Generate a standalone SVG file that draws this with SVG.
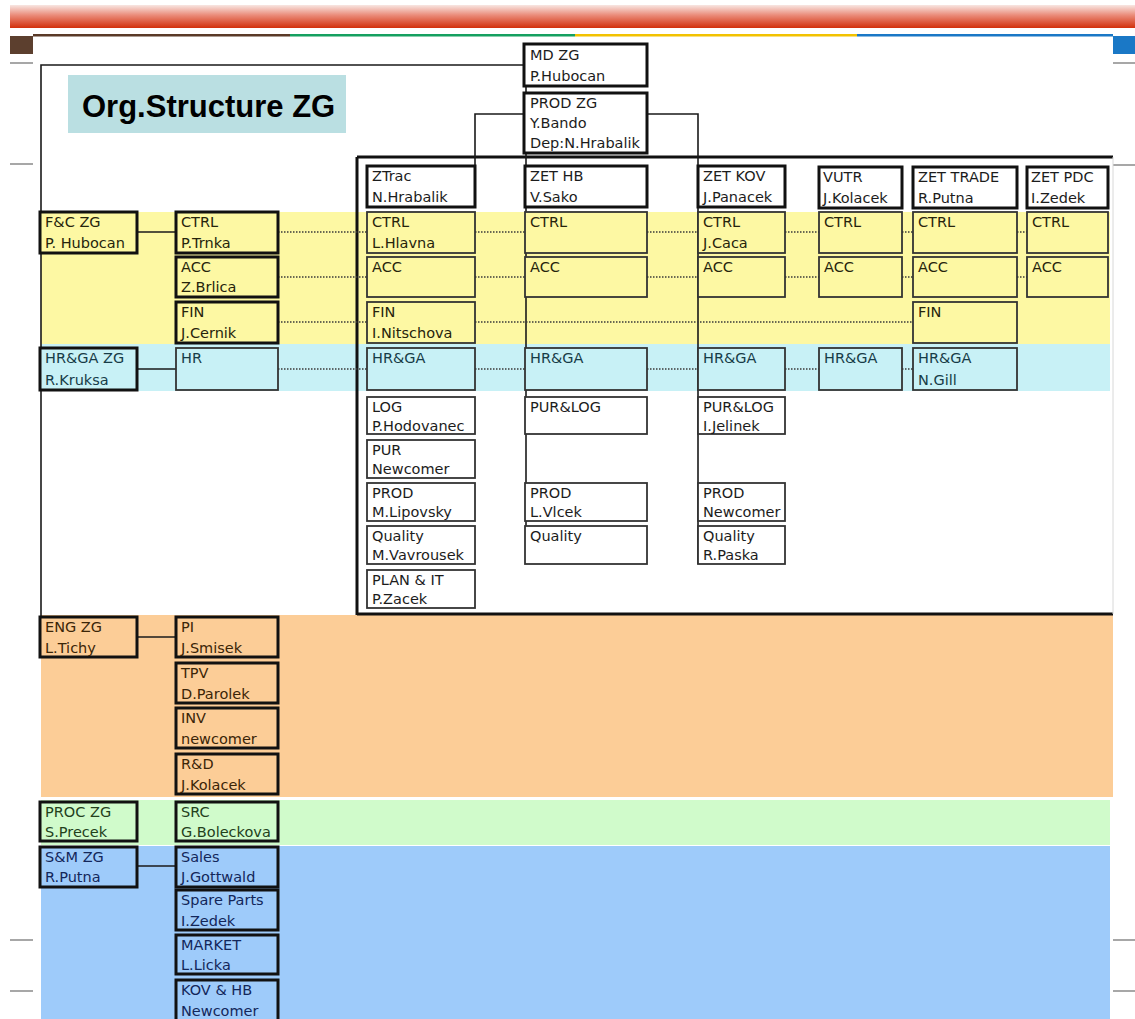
<svg xmlns="http://www.w3.org/2000/svg" width="1135" height="1019" viewBox="0 0 1135 1019">
<defs>
<linearGradient id="redband" x1="0" y1="0" x2="0" y2="1">
<stop offset="0" stop-color="#f8e6e2"/>
<stop offset="0.45" stop-color="#ea8a78"/>
<stop offset="1" stop-color="#d2300c"/>
</linearGradient>
<style>
.t{font-family:"DejaVu Sans","Liberation Sans",sans-serif;font-size:14.5px;fill:#1c1c1c}
.to{fill:#3b2508}.tg{fill:#23401c}.tb{fill:#13275a}.tc{fill:#173c48}.ty{fill:#26240c}
.bk{stroke:#111;stroke-width:3}
.th{stroke:#333;stroke-width:1.8}
.w{fill:#fff}.y{fill:#fdf8a3}.c{fill:#c8f1f6}.o{fill:#fccd97}.g{fill:#d0fbcb}.b{fill:#9ecbfa}
.ln{fill:none;stroke:#1a1a1a;stroke-width:1.6}
.dt{fill:none;stroke:#3a3a3a;stroke-width:1.5;stroke-dasharray:1.5 1.5}
.gr{stroke:#8a8a8a;stroke-width:1.5}
</style>
</defs>
<rect x="0" y="0" width="1135" height="1019" fill="#fff"/>
<!-- header decoration -->
<g id="header">
<rect x="10" y="5" width="1125" height="23" fill="url(#redband)"/>
<rect x="33" y="34" width="257" height="2.5" fill="#5a3a28"/>
<rect x="290" y="34" width="285" height="2.5" fill="#15a060"/>
<rect x="575" y="34" width="282" height="2.5" fill="#f2c200"/>
<rect x="857" y="34" width="256" height="2.5" fill="#1a78c6"/>
<rect x="10" y="36" width="23" height="18" fill="#5c3f2e"/>
<rect x="1113" y="36" width="22" height="18" fill="#1a78c6"/>
<line class="gr" x1="10" y1="63" x2="33" y2="63"/>
<line class="gr" x1="10" y1="164" x2="33" y2="164"/>
<line class="gr" x1="10" y1="940" x2="33" y2="940"/>
<line class="gr" x1="10" y1="991" x2="33" y2="991"/>
<line class="gr" x1="1113" y1="63" x2="1135" y2="63"/>
<line class="gr" x1="1113" y1="165" x2="1135" y2="165"/>
<line class="gr" x1="1113" y1="940" x2="1135" y2="940"/>
<line class="gr" x1="1113" y1="991" x2="1135" y2="991"/>
</g>
<!-- bands -->
<g id="bands">
<rect x="41" y="212" width="1069" height="132" fill="#fdf8a3"/>
<rect x="41" y="344" width="1069" height="47" fill="#c8f1f6"/>
<rect x="41" y="615" width="1072" height="182" fill="#fccd97"/>
<rect x="41" y="800" width="1069" height="45" fill="#d0fbcb"/>
<rect x="41" y="846" width="1069" height="173" fill="#9ecbfa"/>
</g>
<g id="title">
<rect x="68" y="75" width="278" height="58" fill="#badfe2"/>
<text x="82" y="117" style="font-family:'Liberation Sans',Arial,sans-serif;font-size:31px;font-weight:bold;fill:#000">Org.Structure ZG</text>
</g>
<!-- business unit frame -->
<g id="frame">
<line x1="357" y1="157" x2="1113" y2="157" stroke="#111" stroke-width="3"/>
<line x1="357" y1="157" x2="357" y2="615" stroke="#111" stroke-width="3"/>
<line x1="357" y1="614" x2="1113" y2="614" stroke="#111" stroke-width="3"/>
<line x1="1113" y1="157" x2="1113" y2="614" stroke="#d8d8d8" stroke-width="1"/>
</g>
<!-- connectors -->
<g id="connectors">
<path class="ln" d="M41 617 V65 H524"/>
<path class="ln" d="M526 86 V564"/>
<path class="ln" d="M524 114 H475 V166"/>
<path class="ln" d="M647 114 H698 V564"/>
<path class="ln" d="M137 232 H176"/>
<path class="ln" d="M137 369 H176"/>
<path class="ln" d="M137 637 H176"/>
<path class="ln" d="M137 866 H176"/>
<path class="dt" d="M278 232 H367 M475 232 H525 M647 232 H698 M785 232 H819 M902 232 H913 M1017 232 H1027"/>
<path class="dt" d="M278 277 H367 M475 277 H525 M647 277 H698 M785 277 H819 M902 277 H913 M1017 277 H1027"/>
<path class="dt" d="M278 322 H367 M475 322 H913"/>
<path class="dt" d="M278 369 H367 M475 369 H525 M647 369 H698 M785 369 H819 M902 369 H913"/>
</g>
<!-- top nodes -->
<g id="md-zg"><rect class="w bk" x="524" y="44" width="123" height="42"/><text class="t" x="530" y="60">MD ZG</text><text class="t" x="530" y="81">P.Hubocan</text></g>
<g id="prod-zg"><rect class="w bk" x="524" y="93" width="123" height="60"/><text class="t" x="530" y="108">PROD ZG</text><text class="t" x="530" y="128">Y.Bando</text><text class="t" x="530" y="148">Dep:N.Hrabalik</text></g>
<g id="ztrac"><rect class="w bk" x="367" y="166" width="108" height="41"/><text class="t" x="372" y="181">ZTrac</text><text class="t" x="372" y="202">N.Hrabalik</text></g>
<g id="zet-hb"><rect class="w bk" x="525" y="166" width="122" height="41"/><text class="t" x="530" y="181">ZET HB</text><text class="t" x="530" y="202">V.Sako</text></g>
<g id="zet-kov"><rect class="w bk" x="698" y="166" width="87" height="41"/><text class="t" x="703" y="181">ZET KOV</text><text class="t" x="703" y="202">J.Panacek</text></g>
<g id="vutr"><rect class="w bk" x="819" y="167" width="83" height="41"/><text class="t" x="823" y="182">VUTR</text><text class="t" x="823" y="203">J.Kolacek</text></g>
<g id="zet-trade"><rect class="w bk" x="913" y="167" width="104" height="41"/><text class="t" x="918" y="182">ZET TRADE</text><text class="t" x="918" y="203">R.Putna</text></g>
<g id="zet-pdc"><rect class="w bk" x="1027" y="167" width="81" height="41"/><text class="t" x="1031" y="182">ZET PDC</text><text class="t" x="1031" y="203">I.Zedek</text></g>
<!-- F&C -->
<g id="fc-zg"><rect class="y bk" x="40" y="212" width="97" height="41"/><text class="t ty" x="45" y="227">F&amp;C ZG</text><text class="t ty" x="45" y="248">P. Hubocan</text></g>
<g id="ctrl-zg"><rect class="y bk" x="176" y="212" width="102" height="41"/><text class="t ty" x="181" y="227">CTRL</text><text class="t ty" x="181" y="248">P.Trnka</text></g>
<g id="acc-zg"><rect class="y bk" x="176" y="257" width="102" height="40"/><text class="t ty" x="181" y="272">ACC</text><text class="t ty" x="181" y="292">Z.Brlica</text></g>
<g id="fin-zg"><rect class="y bk" x="176" y="302" width="102" height="41"/><text class="t ty" x="181" y="317">FIN</text><text class="t ty" x="181" y="338">J.Cernik</text></g>
<g id="hrga-zg"><rect class="c bk" x="40" y="348" width="97" height="42"/><text class="t tc" x="45" y="363">HR&amp;GA ZG</text><text class="t tc" x="45" y="385">R.Kruksa</text></g>
<g id="hr-zg"><rect class="c th" x="176" y="348" width="102" height="42"/><text class="t tc" x="181" y="363">HR</text></g>
<!-- ZTrac column -->
<g id="ztrac-ctrl"><rect class="y th" x="367" y="212" width="108" height="41"/><text class="t ty" x="372" y="227">CTRL</text><text class="t ty" x="372" y="248">L.Hlavna</text></g>
<g id="ztrac-acc"><rect class="y th" x="367" y="257" width="108" height="40"/><text class="t ty" x="372" y="272">ACC</text></g>
<g id="ztrac-fin"><rect class="y th" x="367" y="302" width="108" height="41"/><text class="t ty" x="372" y="317">FIN</text><text class="t ty" x="372" y="338">I.Nitschova</text></g>
<g id="ztrac-hrga"><rect class="c th" x="367" y="348" width="108" height="42"/><text class="t tc" x="372" y="363">HR&amp;GA</text></g>
<g id="ztrac-log"><rect class="w th" x="367" y="397" width="108" height="37"/><text class="t" x="372" y="412">LOG</text><text class="t" x="372" y="431">P.Hodovanec</text></g>
<g id="ztrac-pur"><rect class="w th" x="367" y="440" width="108" height="38"/><text class="t" x="372" y="455">PUR</text><text class="t" x="372" y="474">Newcomer</text></g>
<g id="ztrac-prod"><rect class="w th" x="367" y="483" width="108" height="38"/><text class="t" x="372" y="498">PROD</text><text class="t" x="372" y="517">M.Lipovsky</text></g>
<g id="ztrac-quality"><rect class="w th" x="367" y="526" width="108" height="38"/><text class="t" x="372" y="541">Quality</text><text class="t" x="372" y="560">M.Vavrousek</text></g>
<g id="ztrac-plan"><rect class="w th" x="367" y="570" width="108" height="38"/><text class="t" x="372" y="585">PLAN &amp; IT</text><text class="t" x="372" y="604">P.Zacek</text></g>
<!-- ZET HB column -->
<g id="hb-ctrl"><rect class="y th" x="525" y="212" width="122" height="41"/><text class="t ty" x="530" y="227">CTRL</text></g>
<g id="hb-acc"><rect class="y th" x="525" y="257" width="122" height="40"/><text class="t ty" x="530" y="272">ACC</text></g>
<g id="hb-hrga"><rect class="c th" x="525" y="348" width="122" height="42"/><text class="t tc" x="530" y="363">HR&amp;GA</text></g>
<g id="hb-purlog"><rect class="w th" x="525" y="397" width="122" height="37"/><text class="t" x="530" y="412">PUR&amp;LOG</text></g>
<g id="hb-prod"><rect class="w th" x="525" y="483" width="122" height="38"/><text class="t" x="530" y="498">PROD</text><text class="t" x="530" y="517">L.Vlcek</text></g>
<g id="hb-quality"><rect class="w th" x="525" y="526" width="122" height="38"/><text class="t" x="530" y="541">Quality</text></g>
<!-- ZET KOV column -->
<g id="kov-ctrl"><rect class="y th" x="698" y="212" width="87" height="41"/><text class="t ty" x="703" y="227">CTRL</text><text class="t ty" x="703" y="248">J.Caca</text></g>
<g id="kov-acc"><rect class="y th" x="698" y="257" width="87" height="40"/><text class="t ty" x="703" y="272">ACC</text></g>
<g id="kov-hrga"><rect class="c th" x="698" y="348" width="87" height="42"/><text class="t tc" x="703" y="363">HR&amp;GA</text></g>
<g id="kov-purlog"><rect class="w th" x="698" y="397" width="87" height="37"/><text class="t" x="703" y="412">PUR&amp;LOG</text><text class="t" x="703" y="431">I.Jelinek</text></g>
<g id="kov-prod"><rect class="w th" x="698" y="483" width="87" height="38"/><text class="t" x="703" y="498">PROD</text><text class="t" x="703" y="517">Newcomer</text></g>
<g id="kov-quality"><rect class="w th" x="698" y="526" width="87" height="38"/><text class="t" x="703" y="541">Quality</text><text class="t" x="703" y="560">R.Paska</text></g>
<!-- VUTR column -->
<g id="vutr-ctrl"><rect class="y th" x="819" y="212" width="83" height="41"/><text class="t ty" x="824" y="227">CTRL</text></g>
<g id="vutr-acc"><rect class="y th" x="819" y="257" width="83" height="40"/><text class="t ty" x="824" y="272">ACC</text></g>
<g id="vutr-hrga"><rect class="c th" x="819" y="348" width="83" height="42"/><text class="t tc" x="824" y="363">HR&amp;GA</text></g>
<!-- ZET TRADE column -->
<g id="trade-ctrl"><rect class="y th" x="913" y="212" width="104" height="41"/><text class="t ty" x="918" y="227">CTRL</text></g>
<g id="trade-acc"><rect class="y th" x="913" y="257" width="104" height="40"/><text class="t ty" x="918" y="272">ACC</text></g>
<g id="trade-fin"><rect class="y th" x="913" y="302" width="104" height="41"/><text class="t ty" x="918" y="317">FIN</text></g>
<g id="trade-hrga"><rect class="c th" x="913" y="348" width="104" height="42"/><text class="t tc" x="918" y="363">HR&amp;GA</text><text class="t tc" x="918" y="385">N.Gill</text></g>
<!-- ZET PDC column -->
<g id="pdc-ctrl"><rect class="y th" x="1027" y="212" width="81" height="41"/><text class="t ty" x="1032" y="227">CTRL</text></g>
<g id="pdc-acc"><rect class="y th" x="1027" y="257" width="81" height="40"/><text class="t ty" x="1032" y="272">ACC</text></g>
<!-- ENG -->
<g id="eng-zg"><rect class="o bk" x="40" y="617" width="97" height="40"/><text class="t to" x="45" y="632">ENG ZG</text><text class="t to" x="45" y="653">L.Tichy</text></g>
<g id="eng-pi"><rect class="o bk" x="176" y="617" width="102" height="40"/><text class="t to" x="181" y="632">PI</text><text class="t to" x="181" y="653">J.Smisek</text></g>
<g id="eng-tpv"><rect class="o bk" x="176" y="663" width="102" height="40"/><text class="t to" x="181" y="678">TPV</text><text class="t to" x="181" y="699">D.Parolek</text></g>
<g id="eng-inv"><rect class="o bk" x="176" y="708" width="102" height="40"/><text class="t to" x="181" y="723">INV</text><text class="t to" x="181" y="744">newcomer</text></g>
<g id="eng-rd"><rect class="o bk" x="176" y="754" width="102" height="40"/><text class="t to" x="181" y="769">R&amp;D</text><text class="t to" x="181" y="790">J.Kolacek</text></g>
<!-- PROC -->
<g id="proc-zg"><rect class="g bk" x="40" y="802" width="97" height="39"/><text class="t tg" x="45" y="817">PROC ZG</text><text class="t tg" x="45" y="837">S.Precek</text></g>
<g id="proc-src"><rect class="g bk" x="176" y="802" width="102" height="39"/><text class="t tg" x="181" y="817">SRC</text><text class="t tg" x="181" y="837">G.Boleckova</text></g>
<!-- S&M -->
<g id="sm-zg"><rect class="b bk" x="40" y="847" width="97" height="40"/><text class="t tb" x="45" y="862">S&amp;M ZG</text><text class="t tb" x="45" y="882">R.Putna</text></g>
<g id="sm-sales"><rect class="b bk" x="176" y="847" width="102" height="40"/><text class="t tb" x="181" y="862">Sales</text><text class="t tb" x="181" y="882">J.Gottwald</text></g>
<g id="sm-spare"><rect class="b bk" x="176" y="890" width="102" height="40"/><text class="t tb" x="181" y="905">Spare Parts</text><text class="t tb" x="181" y="926">I.Zedek</text></g>
<g id="sm-market"><rect class="b bk" x="176" y="935" width="102" height="39"/><text class="t tb" x="181" y="950">MARKET</text><text class="t tb" x="181" y="970">L.Licka</text></g>
<g id="sm-kovhb"><rect class="b bk" x="176" y="980" width="102" height="46"/><text class="t tb" x="181" y="995">KOV &amp; HB</text><text class="t tb" x="181" y="1016">Newcomer</text></g>
</svg>
